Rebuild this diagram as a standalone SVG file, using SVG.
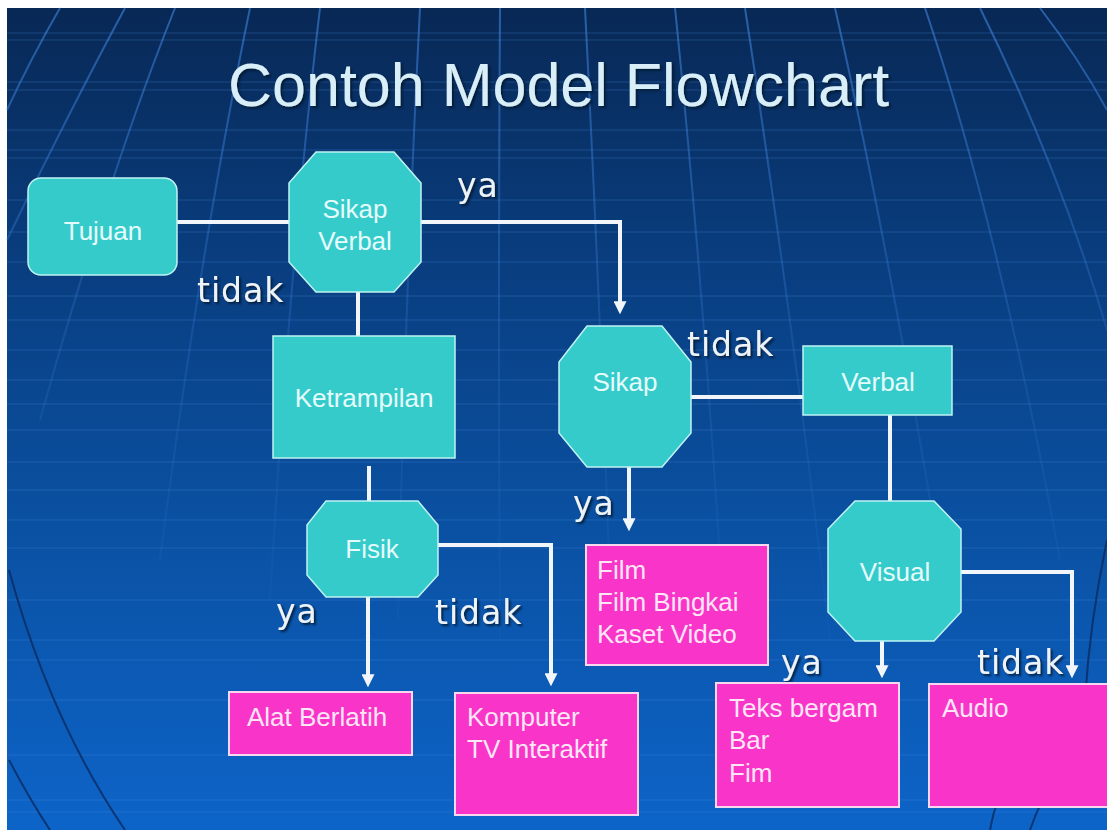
<svg xmlns="http://www.w3.org/2000/svg" width="1107" height="830" viewBox="0 0 1107 830">
  <defs>
    <linearGradient id="bg" x1="0" y1="0" x2="0" y2="1">
      <stop offset="0" stop-color="#082855"/>
      <stop offset="0.3" stop-color="#093d7e"/>
      <stop offset="0.6" stop-color="#0a4f9f"/>
      <stop offset="1" stop-color="#0d64c8"/>
    </linearGradient>
    <linearGradient id="meridian" gradientUnits="userSpaceOnUse" x1="0" y1="0" x2="0" y2="830">
      <stop offset="0" stop-color="#3f86e0" stop-opacity="0.6"/>
      <stop offset="0.4" stop-color="#3f86e0" stop-opacity="0.22"/>
      <stop offset="0.75" stop-color="#3f86e0" stop-opacity="0.05"/>
      <stop offset="1" stop-color="#3f86e0" stop-opacity="0"/>
    </linearGradient>
    <filter id="shadow" x="-10%" y="-20%" width="130%" height="150%">
      <feDropShadow dx="2" dy="2" stdDeviation="0.8" flood-color="#06152e" flood-opacity="0.85"/>
    </filter>
    <marker id="arrow" viewBox="0 0 12 12" refX="8" refY="6" markerWidth="13" markerHeight="13" markerUnits="userSpaceOnUse" orient="auto">
      <path d="M0,0 L12,6 L0,12 z" fill="#f2f6fa"/>
    </marker>
    <style>
      .decision, .step { fill: #35cbcb; stroke: #bff3f3; stroke-width: 1.5; }
      .media { fill: #f935c9; stroke: #f7d8ee; stroke-width: 2; }
      .ntext { font-family: "Liberation Sans", Arial, sans-serif; font-size: 26px; fill: #e6fbfb; }
      .mtext { font-family: "Liberation Sans", Arial, sans-serif; font-size: 26px; fill: #fde6f5; }
      .label { font-family: "DejaVu Sans", Verdana, sans-serif; font-size: 33px; fill: #eef3f8; letter-spacing: 1px; filter: url(#shadow); }
      .title { font-family: "Liberation Sans", Arial, sans-serif; font-size: 61px; fill: #d8eef8; filter: url(#shadow); }
      .link { fill: none; stroke: #f2f6fa; stroke-width: 4; }
      .hline { stroke: #4a90e6; stroke-width: 1.2; opacity: 0.28; }
      .globe { fill: none; stroke: url(#meridian); stroke-width: 2; }
      .rim { fill: none; stroke: #0a2a60; stroke-width: 2; opacity: 0.8; }
    </style>
  </defs>

  <!-- slide background -->
  <rect x="0" y="0" width="1107" height="830" fill="#ffffff"/>
  <rect x="7" y="8" width="1100" height="822" fill="url(#bg)"/>

  <g id="background-grid">
    <g class="hline">
      <line x1="7" y1="33" x2="1107" y2="33"/>
      <line x1="7" y1="40" x2="1107" y2="40"/>
      <line x1="7" y1="82" x2="1107" y2="82"/>
      <line x1="7" y1="90" x2="1107" y2="90"/>
      <line x1="7" y1="130" x2="1107" y2="130"/>
      <line x1="7" y1="150" x2="1107" y2="150"/>
      <line x1="7" y1="158" x2="1107" y2="158"/>
      <line x1="7" y1="200" x2="1107" y2="200"/>
      <line x1="7" y1="232" x2="1107" y2="232"/>
      <line x1="7" y1="262" x2="1107" y2="262"/>
      <line x1="7" y1="296" x2="1107" y2="296"/>
      <line x1="7" y1="320" x2="1107" y2="320"/>
      <line x1="7" y1="350" x2="1107" y2="350"/>
      <line x1="7" y1="380" x2="1107" y2="380"/>
      <line x1="7" y1="404" x2="1107" y2="404"/>
      <line x1="7" y1="430" x2="1107" y2="430"/>
      <line x1="7" y1="462" x2="1107" y2="462"/>
      <line x1="7" y1="490" x2="1107" y2="490"/>
      <line x1="7" y1="520" x2="1107" y2="520"/>
      <line x1="7" y1="548" x2="1107" y2="548"/>
      <line x1="7" y1="600" x2="1107" y2="600"/>
      <line x1="7" y1="640" x2="1107" y2="640"/>
      <line x1="7" y1="660" x2="1107" y2="660"/>
      <line x1="7" y1="700" x2="1107" y2="700"/>
      <line x1="7" y1="755" x2="1107" y2="755"/>
      <line x1="7" y1="800" x2="1107" y2="800"/>
      <line x1="7" y1="812" x2="1107" y2="812"/>
    </g>
    <g class="globe">
      <path d="M60,8 Q30,60 7,110"/>
      <path d="M125,8 Q70,110 7,240"/>
      <path d="M175,8 Q110,170 40,420"/>
      <path d="M250,8 Q200,250 160,560"/>
      <path d="M320,8 Q290,260 270,600"/>
      <path d="M420,8 Q405,300 398,620"/>
      <path d="M500,8 Q498,300 500,640"/>
      <path d="M585,8 Q600,300 612,640"/>
      <path d="M675,8 Q705,300 725,640"/>
      <path d="M745,8 Q790,300 830,640"/>
      <path d="M835,8 Q890,250 950,620"/>
      <path d="M925,8 Q1000,230 1060,560"/>
      <path d="M980,8 Q1060,170 1107,330"/>
      <path d="M1040,8 Q1080,60 1107,110"/>
    </g>
    <g class="rim">
      <path d="M9,570 Q50,720 125,830"/>
      <path d="M9,760 Q30,800 50,830"/>
      <path d="M1107,540 Q1090,620 1085,700"/>
      <path d="M1010,775 Q995,800 990,830"/>
      <path d="M1060,770 Q1040,800 1030,830"/>
    </g>
  </g>

  <text class="title" x="228" y="106">Contoh Model Flowchart</text>

  <!-- connectors -->
  <g id="connectors">
    <path class="link" d="M170,222 H290"/>
    <path class="link" d="M420,222 H620 V310" marker-end="url(#arrow)"/>
    <path class="link" d="M358,292 V337"/>
    <path class="link" d="M369,466 V502"/>
    <path class="link" d="M368,596 V683" marker-end="url(#arrow)"/>
    <path class="link" d="M437,545 H551 V682" marker-end="url(#arrow)"/>
    <path class="link" d="M629,466 V527" marker-end="url(#arrow)"/>
    <path class="link" d="M690,397 H804"/>
    <path class="link" d="M890,414 V502"/>
    <path class="link" d="M882,640 V674" marker-end="url(#arrow)"/>
    <path class="link" d="M960,572 H1072 V674" marker-end="url(#arrow)"/>
  </g>

  <!-- branch labels -->
  <g id="labels">
    <text class="label" x="457" y="197">ya</text>
    <text class="label" x="197" y="302">tidak</text>
    <text class="label" x="687" y="356">tidak</text>
    <text class="label" x="573" y="515">ya</text>
    <text class="label" x="276" y="623">ya</text>
    <text class="label" x="435" y="624">tidak</text>
    <text class="label" x="781" y="674">ya</text>
    <text class="label" x="977" y="674">tidak</text>
  </g>

  <g id="tujuan">
    <rect class="step" x="28" y="178" width="149" height="97" rx="13"/>
    <text class="ntext" x="103" y="240" text-anchor="middle">Tujuan</text>
  </g>

  <g id="sikap-verbal">
    <polygon class="decision" points="316,152 394,152 421,183 421,262 394,292 316,292 289,262 289,183"/>
    <text class="ntext" x="355" y="218" text-anchor="middle">Sikap</text>
    <text class="ntext" x="355" y="250" text-anchor="middle">Verbal</text>
  </g>

  <g id="ketrampilan">
    <rect class="step" x="273" y="336" width="182" height="122"/>
    <text class="ntext" x="364" y="407" text-anchor="middle">Ketrampilan</text>
  </g>

  <g id="fisik">
    <polygon class="decision" points="326,501 418,501 438,525 438,575 418,597 326,597 307,575 307,525"/>
    <text class="ntext" x="372" y="558" text-anchor="middle">Fisik</text>
  </g>

  <g id="alat-berlatih">
    <rect class="media" x="229" y="692" width="183" height="63"/>
    <text class="mtext" x="247" y="726">Alat Berlatih</text>
  </g>

  <g id="komputer">
    <rect class="media" x="455" y="693" width="183" height="122"/>
    <text class="mtext" x="467" y="726">Komputer</text>
    <text class="mtext" x="467" y="758">TV Interaktif</text>
  </g>

  <g id="sikap">
    <polygon class="decision" points="587,326 662,326 691,362 691,433 662,467 587,467 559,433 559,362"/>
    <text class="ntext" x="625" y="391" text-anchor="middle">Sikap</text>
  </g>

  <g id="verbal">
    <rect class="step" x="803" y="346" width="149" height="69"/>
    <text class="ntext" x="878" y="391" text-anchor="middle">Verbal</text>
  </g>

  <g id="film">
    <rect class="media" x="586" y="545" width="182" height="120"/>
    <text class="mtext" x="597" y="579">Film</text>
    <text class="mtext" x="597" y="611">Film Bingkai</text>
    <text class="mtext" x="597" y="643">Kaset Video</text>
  </g>

  <g id="visual">
    <polygon class="decision" points="855,501 934,501 961,529 961,612 934,641 855,641 828,612 828,529"/>
    <text class="ntext" x="895" y="581" text-anchor="middle">Visual</text>
  </g>

  <g id="teks">
    <rect class="media" x="716" y="683" width="183" height="124"/>
    <text class="mtext" x="729" y="717">Teks bergam</text>
    <text class="mtext" x="729" y="749">Bar</text>
    <text class="mtext" x="729" y="782">Fim</text>
  </g>

  <g id="audio">
    <rect class="media" x="929" y="684" width="190" height="123"/>
    <text class="mtext" x="942" y="717">Audio</text>
  </g>
</svg>
